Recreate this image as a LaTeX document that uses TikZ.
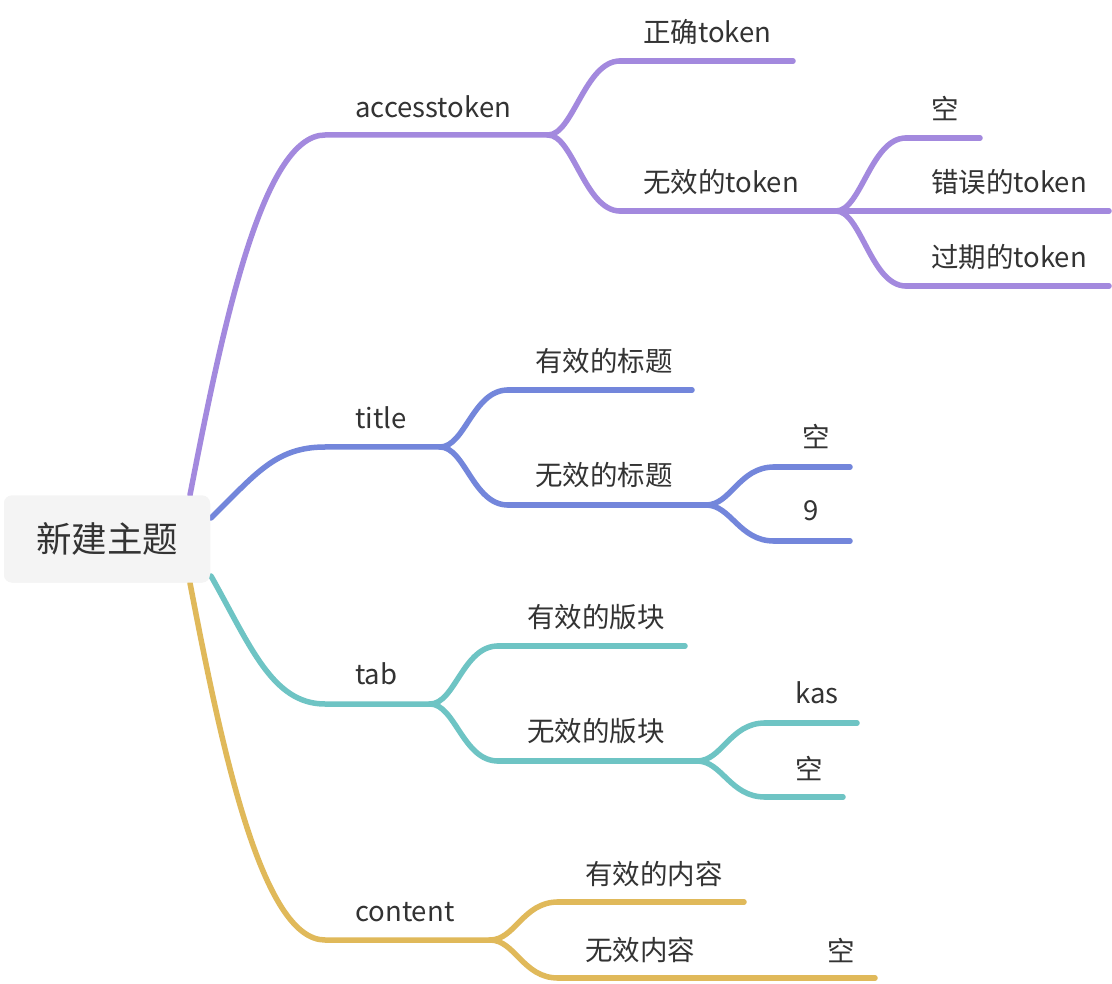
\documentclass[tikz,border=0pt]{standalone}
\usepackage{fontspec}
\setmainfont{Noto Sans CJK SC}
\definecolor{cpurple}{HTML}{A389DE}
\definecolor{cblue}{HTML}{7386DB}
\definecolor{cteal}{HTML}{6EC4C4}
\definecolor{cgold}{HTML}{E0B95A}
\definecolor{ctext}{HTML}{333333}
\definecolor{croot}{HTML}{F4F4F4}
\tikzset{
  lbl/.style={anchor=west,inner sep=0pt,text=ctext,font=\fontsize{27.5}{32}\selectfont},
  rootbox/.style={fill=croot,rounded corners=8pt,minimum width=206pt,minimum height=87pt,text=ctext,font=\fontsize{35.5}{42}\selectfont},
  br/.style={line width=5.5pt,line cap=round,line join=round},
}
\newcommand{\fork}[3]{% color, from, to
  \draw[br,#1] (#2) .. controls ($(#2)+(25,0)$) and ($(#3)+(-35,0)$) .. (#3);}
\usetikzlibrary{calc}
\begin{document}
\begin{tikzpicture}[x=1pt,y=-1pt]
\useasboundingbox (0,0) rectangle (1112,984);
\fill[white] (0,0) rectangle (1112,984);
% root
\node[rootbox] (root) at (107,539) {新建主题};
% ---------- accesstoken (purple)
\coordinate (a0) at (190,495);
\coordinate (a1) at (325,135);
\coordinate (aF) at (548,135);
\coordinate (a11) at (620,61);  \coordinate (a11e) at (793,61);
\coordinate (a12) at (620,211); \coordinate (a12F) at (836,211);
\coordinate (a121) at (906,138); \coordinate (a121e) at (980,138);
\coordinate (a122e) at (1109,211);
\coordinate (a123) at (906,286); \coordinate (a123e) at (1109,286);
\draw[br,cpurple] (a0) .. controls (222,330) and (262,135) .. (a1) -- (aF);
\fork{cpurple}{aF}{a11}
\draw[br,cpurple] (a11) -- (a11e);
\fork{cpurple}{aF}{a12}
\draw[br,cpurple] (a12) -- (a12F) -- (a122e);
\fork{cpurple}{a12F}{a121}
\draw[br,cpurple] (a121) -- (a121e);
\fork{cpurple}{a12F}{a123}
\draw[br,cpurple] (a123) -- (a123e);
\node[lbl] (t_a) at (355,107) {accesstoken};
\node[lbl] (t_a1) at (643,32) {正确token};
\node[lbl] (t_a2) at (643,182) {无效的token};
\node[lbl] (t_a21) at (931,109) {空};
\node[lbl] (t_a22) at (931,182) {错误的token};
\node[lbl] (t_a23) at (931,257) {过期的token};
% ---------- title (blue)
\coordinate (b0) at (211,518);
\coordinate (b1) at (325,447);
\coordinate (bF) at (440,447);
\coordinate (b11) at (508,390); \coordinate (b11e) at (692,390);
\coordinate (b12) at (508,505); \coordinate (b12F) at (706,505);
\coordinate (b121) at (774,467); \coordinate (b121e) at (850,467);
\coordinate (b122) at (774,541); \coordinate (b122e) at (850,541);
\draw[br,cblue] (b0) .. controls (255,475) and (275,447) .. (b1) -- (bF);
\fork{cblue}{bF}{b11}
\draw[br,cblue] (b11) -- (b11e);
\fork{cblue}{bF}{b12}
\draw[br,cblue] (b12) -- (b12F);
\fork{cblue}{b12F}{b121}
\draw[br,cblue] (b121) -- (b121e);
\fork{cblue}{b12F}{b122}
\draw[br,cblue] (b122) -- (b122e);
\node[lbl] (t_b) at (355,418) {title};
\node[lbl] (t_b1) at (535,361) {有效的标题};
\node[lbl] (t_b2) at (535,475) {无效的标题};
\node[lbl] (t_b21) at (802,437) {空};
\node[lbl] (t_b22) at (803,511) {9};
% ---------- tab (teal)
\coordinate (c0) at (211,576);
\coordinate (c1) at (325,704);
\coordinate (cF) at (430,704);
\coordinate (c11) at (498,646); \coordinate (c11e) at (685,646);
\coordinate (c12) at (498,761); \coordinate (c12F) at (697,761);
\coordinate (c121) at (765,723); \coordinate (c121e) at (857,723);
\coordinate (c122) at (765,797); \coordinate (c122e) at (843,797);
\draw[br,cteal] (c0) .. controls (250,645) and (272,704) .. (c1) -- (cF);
\fork{cteal}{cF}{c11}
\draw[br,cteal] (c11) -- (c11e);
\fork{cteal}{cF}{c12}
\draw[br,cteal] (c12) -- (c12F);
\fork{cteal}{c12F}{c121}
\draw[br,cteal] (c121) -- (c121e);
\fork{cteal}{c12F}{c122}
\draw[br,cteal] (c122) -- (c122e);
\node[lbl] (t_c) at (355,674) {tab};
\node[lbl] (t_c1) at (527,617) {有效的版块};
\node[lbl] (t_c2) at (527,731) {无效的版块};
\node[lbl] (t_c21) at (795,693) {kas};
\node[lbl] (t_c22) at (795,768) {空};
% ---------- content (gold)
\coordinate (d0) at (190,583);
\coordinate (d1) at (325,940);
\coordinate (dF) at (490,940);
\coordinate (d11) at (558,902); \coordinate (d11e) at (744,902);
\coordinate (d12) at (558,978); \coordinate (d12e) at (875,978);
\draw[br,cgold] (d0) .. controls (222,750) and (262,940) .. (d1) -- (dF);
\fork{cgold}{dF}{d11}
\draw[br,cgold] (d11) -- (d11e);
\fork{cgold}{dF}{d12}
\draw[br,cgold] (d12) -- (d12e);
\node[lbl] (t_d) at (355,912) {content};
\node[lbl] (t_d1) at (585,874) {有效的内容};
\node[lbl] (t_d2) at (585,950) {无效内容};
\node[lbl] (t_d21) at (827,950) {空};
% root on top
\node[rootbox] at (root) {新建主题};
\end{tikzpicture}
\end{document}
